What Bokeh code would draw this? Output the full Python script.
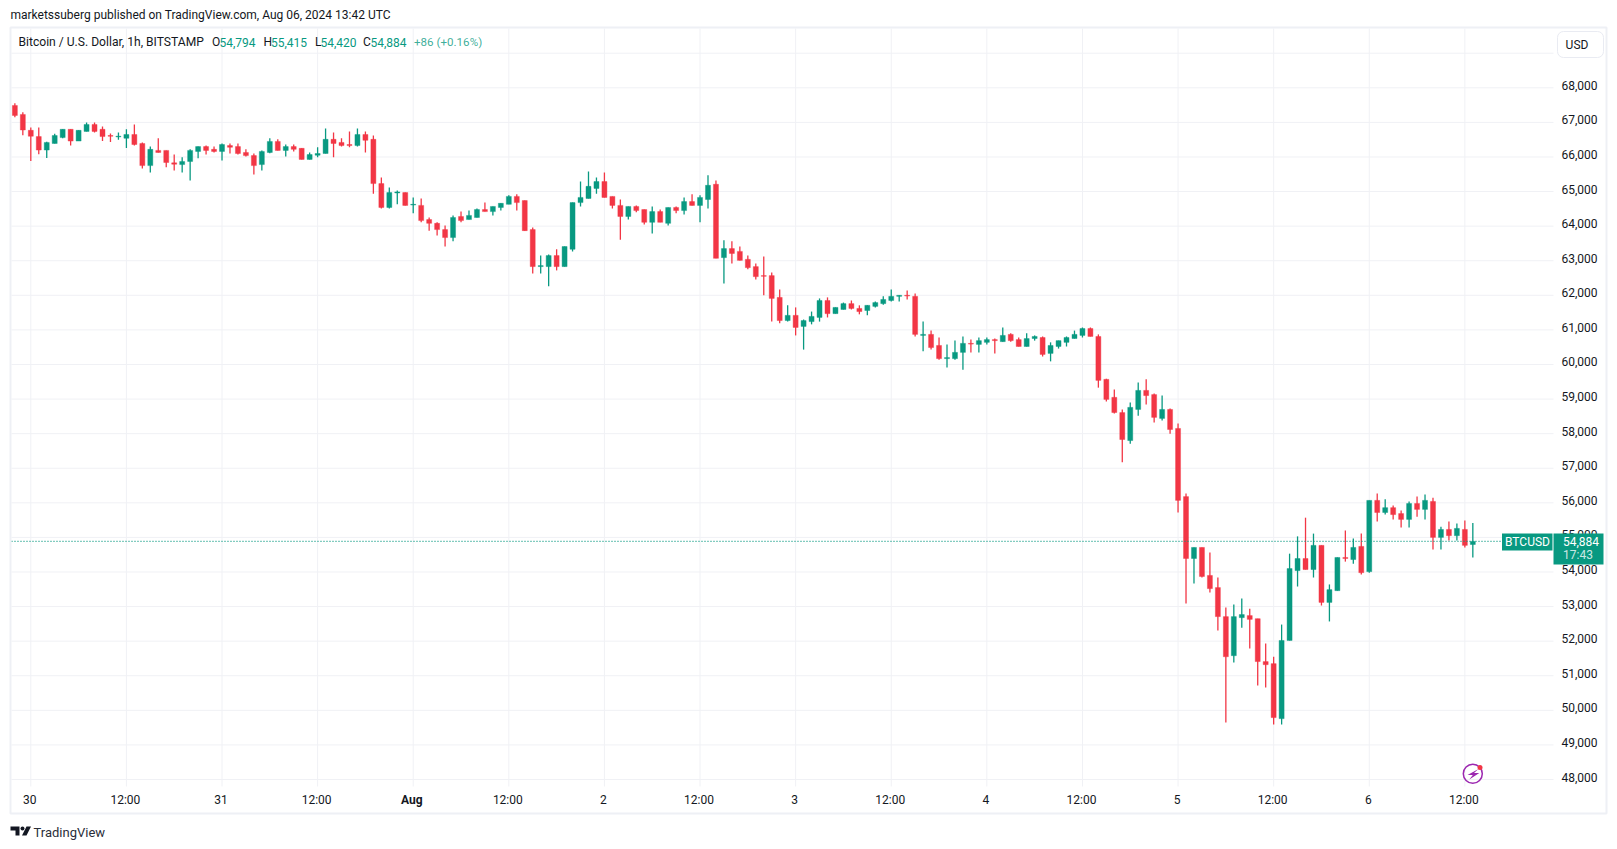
from bokeh.plotting import figure
from bokeh.models import (ColumnDataSource, FixedTicker, Label, BoxAnnotation, PolyAnnotation,
                          Span, Range1d, LinearAxis)
from bokeh.embed import file_html
from bokeh.resources import INLINE

opens = [67490,67230,66770,66590,66200,66390,66560,66800,66460,66740,
66940,66800,66620,66580,66540,66650,66390,65750,66190,66190,
65830,65780,65870,66160,66300,66220,66160,66330,66300,66130,
66040,65780,66130,66450,66190,66300,66250,65930,66050,66100,
66510,66420,66360,66330,66650,66510,65230,64540,64960,64970,
64610,64600,64190,64080,63900,63670,64280,64190,64250,64480,
64420,64540,64630,64860,64740,63900,62830,62830,63150,62830,
63330,64680,64800,65090,65290,64860,64600,64280,64570,64480,
64110,64420,64080,64540,64450,64710,64600,64770,65210,63090,
63350,63270,63040,62830,62570,62570,61940,61270,61420,61100,
61240,61360,61850,61470,61590,61760,61620,61560,61680,61760,
61850,61970,62000,61970,60840,60870,60550,60170,60170,60350,
60610,60580,60640,60720,60660,60870,60720,60520,60750,60780,
60320,60520,60640,60750,60840,61040,60810,59570,59050,58610,
57800,58700,59250,59130,58440,58700,58150,56180,54390,54710,
53900,53550,52710,51580,52680,52740,52650,51410,51350,49760,
52020,54040,54390,54070,54770,53120,53460,54420,54360,54740,
54010,56070,55720,55860,55690,55520,55980,55810,56040,55000,
55230,55050,55230,54794]

highs = [67550,67290,66850,66850,66440,66670,66800,66800,66770,67000,
67000,66880,66680,66710,66800,66940,66420,66300,66540,66190,
66070,65990,66220,66300,66330,66300,66390,66390,66390,66220,
66100,66190,66540,66510,66360,66360,66250,66130,66280,66820,
66710,66540,66740,66820,66740,66620,65410,65120,65030,64970,
64830,64800,64250,64110,64020,64310,64420,64450,64510,64680,
64570,64660,64890,64920,64740,63960,63150,63180,63330,63410,
64680,65290,65580,65410,65550,64860,64770,64570,64600,64480,
64570,64480,64540,64570,64830,64920,64890,65470,65320,63590,
63560,63410,63150,62920,63120,62660,62170,61710,61650,61300,
61530,61910,61940,61650,61790,61850,61710,61710,61820,61970,
62170,62000,62140,62050,61240,60980,60780,60580,60690,60810,
60720,60780,60780,60750,61070,60900,60780,60900,60840,60810,
60640,60690,60810,60980,61070,61070,60870,59590,59280,58700,
58900,59480,59570,59160,59100,58730,58290,56270,54710,54710,
54560,53840,52970,53060,53230,52940,52650,51930,51550,52480,
54530,55030,55570,55110,54770,53640,54420,55200,54970,55110,
56070,56270,56100,55920,55780,56040,56180,56240,56150,55310,
55460,55400,55490,55415]

lows = [67150,66630,65880,66080,65970,66390,66540,66330,66460,66740,
66710,66460,66430,66500,66260,66330,65670,65550,66130,65700,
65610,65550,65320,65960,66070,66130,65900,66100,66070,66010,
65490,65610,66110,66190,66010,66160,65930,65930,65990,66100,
65990,66300,66280,66300,66130,64940,64510,64510,64630,64600,
64370,64110,63870,63730,63410,63560,64110,64190,64250,64420,
64310,64450,64630,64450,63870,62630,62630,62260,62720,62830,
63270,64570,64800,64940,64830,64510,63610,64190,64400,64050,
63790,64110,64020,64370,64340,64600,64110,64510,63070,62340,
62920,63010,62750,62460,62000,61240,61190,61240,60840,60430,
61160,61240,61360,61470,61590,61590,61450,61420,61650,61730,
61820,61820,61880,60810,60380,60430,60140,59910,60140,59850,
60350,60350,60580,60320,60660,60660,60520,60520,60690,60230,
60090,60460,60520,60750,60780,60810,59330,58930,58580,57170,
57710,58520,58840,58320,58380,58000,55720,53090,53670,53840,
53410,52310,49650,51380,52390,51790,50720,50660,49590,49590,
52020,53580,54070,53840,53030,52570,53460,54300,54240,53930,
53980,55460,55660,55520,55290,55290,55600,55520,54650,54650,
54910,54910,54710,54420]

closes = [67200,66780,66600,66200,66420,66620,66800,66460,66770,66940,
66740,66590,66600,66600,66650,66360,65750,66220,66130,65840,
65790,65870,66190,66300,66190,66160,66360,66280,66100,66040,
65750,66160,66450,66190,66300,66220,65930,66070,66100,66510,
66390,66330,66330,66650,66480,65230,64540,64970,64990,64600,
64630,64160,64080,63900,63670,64250,64160,64310,64480,64420,
64570,64660,64860,64680,63870,62830,62860,63150,62830,63410,
64680,64830,65150,65290,64830,64600,64280,64570,64450,64110,
64420,64110,64540,64450,64710,64600,64830,65180,63070,63350,
63210,63010,62800,62540,62550,61910,61270,61420,61070,61270,
61390,61850,61470,61650,61760,61620,61530,61710,61790,61880,
61970,62000,61980,60870,60870,60490,60170,60200,60350,60610,
60590,60690,60720,60690,60840,60690,60520,60750,60810,60290,
60550,60690,60780,60870,61040,60810,59540,58990,58610,57830,
58760,59250,59100,58470,58700,58120,56070,54390,54710,53870,
53520,52710,51550,52710,52770,52630,51410,51320,49790,52020,
54100,54390,54070,54770,53120,53490,54420,54390,54710,53980,
56070,55720,55860,55660,55520,55980,55810,56070,55000,55230,
55050,55260,54770,54884]

# hours counted from Jul 30 00:00
hours = list(range(-2, 182))
price_ticks = list(range(48000, 69000, 1000))
grid_ticks = list(range(48000, 70000, 1000))
time_ticks = list(range(0, 192, 12))
time_labels = ["30","12:00","31","12:00","","12:00","2","12:00","3","12:00","4","12:00","5","12:00","6","12:00"]
last_price = 54884

UP, DOWN = "#089981", "#f23645"
INK = "#131722"
FRAME = "#eef0f5"
GRID = "#f0f1f5"
FONT = "Roboto"

# page geometry (page pixels)
W, H = 1617, 849
FL, FR, FT, FB = 11, 1553, 28, 786
X0, PX_H = 30.3, 7.967      # page x of hour 0, px per hour
Y68, PX_K = 87.3, 34.585    # page y of 68,000, px per 1000
LABEL_UP = 2.5              # price labels sit slightly above their grid line
LABEL_LEFT = 1.0            # time labels sit slightly left of their grid line


def hx(px):
    return (px - X0) / PX_H


def py2p(py):
    return 68000 + (Y68 - py) / PX_K * 1000


p = figure(width=W, height=H, output_backend="svg", toolbar_location=None,
           x_range=Range1d(hx(0), hx(W)), y_range=Range1d(py2p(H), py2p(0)),
           x_axis_location=None, y_axis_location=None,
           min_border=0, background_fill_color="white", border_fill_color="white")
p.outline_line_color = None
p.grid.visible = False
p.extra_y_ranges = {"price_labels": Range1d(py2p(H + LABEL_UP), py2p(LABEL_UP))}
p.extra_x_ranges = {"time_labels": Range1d(hx(LABEL_LEFT), hx(W + LABEL_LEFT))}

# grid
p.segment(x0=[hx(FL)] * len(grid_ticks), x1=[hx(FR)] * len(grid_ticks), y0=grid_ticks, y1=grid_ticks,
          line_color=GRID, line_width=1)
p.segment(x0=time_ticks, x1=time_ticks, y0=[py2p(FT)] * len(time_ticks), y1=[py2p(FB)] * len(time_ticks),
          line_color=GRID, line_width=1)

# axes
ax_y = LinearAxis(ticker=FixedTicker(ticks=price_ticks), fixed_location=hx(FR), y_range_name="price_labels")
ax_y.major_label_overrides = {t: f"{t:,}" for t in price_ticks}
ax_x = LinearAxis(ticker=FixedTicker(ticks=time_ticks), fixed_location=py2p(FB), x_range_name="time_labels")
ax_x.major_label_overrides = dict(zip(time_ticks, time_labels))
for a in (ax_x, ax_y):
    a.axis_line_color = None
    a.major_tick_line_color = None
    a.minor_tick_line_color = None
    a.major_tick_out = 0
    a.major_tick_in = 0
    a.minor_tick_out = 0
    a.minor_tick_in = 0
    a.major_label_text_color = INK
    a.major_label_text_font = FONT
    a.major_label_text_font_size = "12px"
ax_y.major_label_standoff = 8
ax_x.major_label_standoff = 6
p.add_layout(ax_y, "right")
p.add_layout(ax_x, "below")

# candles
src = ColumnDataSource(dict(
    x=hours, o=opens, h=highs, l=lows, c=closes,
    top=[max(a, b) for a, b in zip(opens, closes)],
    bot=[min(a, b) for a, b in zip(opens, closes)],
    col=[UP if c >= o else DOWN for o, c in zip(opens, closes)],
))
p.segment("x", "h", "x", "l", source=src, line_color="col", line_width=1.3)
p.vbar("x", width=5 / PX_H, top="top", bottom="bot", source=src, fill_color="col", line_color="col", line_width=0.4)

# last price line
p.segment(x0=[hx(FL)], x1=[hx(1502)], y0=[last_price], y1=[last_price], line_color=UP, line_width=1.3, line_dash="1 2")


def sx(px):
    return px


def sy(py):
    return H - py


def box(x0, y0, x1, y1, fill=None, line=None, lw=1, radius=0):
    b = BoxAnnotation(left=sx(x0), right=sx(x1), top=sy(y0), bottom=sy(y1),
                      left_units="screen", right_units="screen", top_units="screen", bottom_units="screen",
                      fill_color=fill, fill_alpha=1 if fill else 0,
                      line_color=line, line_alpha=1 if line else 0, line_width=lw, border_radius=radius)
    p.add_layout(b)


def poly(pts, fill):
    p.add_layout(PolyAnnotation(xs=[sx(a) for a, _ in pts], ys=[sy(b) for _, b in pts],
                                xs_units="screen", ys_units="screen",
                                fill_color=fill, fill_alpha=1, line_color=None))


def txt(s, px, py, color=INK, size=12, align="left", style="normal", alpha=1.0, font=FONT):
    p.add_layout(Label(x=sx(px), y=sy(py), x_units="screen", y_units="screen", text=s,
                       text_color=color, text_font_size=f"{size}px", text_font=font,
                       text_align=align, text_baseline="middle", text_font_style=style, text_alpha=alpha))


# outer frame
box(10, 27, 1606, 813, line=FRAME, lw=2)

# header
txt("marketssuberg published on TradingView.com, Aug 06, 2024 13:42 UTC", 10, 14.5, size=12)
txt("Bitcoin / U.S. Dollar, 1h, BITSTAMP", 18, 41.5, size=12.1)
for letter, lx, val, vx in [("O", 211.5, "54,794", 219), ("H", 263, "55,415", 270.5),
                            ("L", 314.5, "54,420", 320), ("C", 362.5, "54,884", 370)]:
    txt(letter, lx, 41.5, size=12)
    txt(val, vx, 41.5, color=UP, size=12)
txt("+86 (+0.16%)", 413.5, 41.5, color=UP, size=11.6, alpha=0.8)

# bold month tick
txt("Aug", 411.3, 799, size=12, align="center", style="bold")

# currency button
box(1557, 31, 1603, 57, fill="white", line="#e9ebf2", lw=1, radius=6)
txt("USD", 1576.5, 44.5, size=12, align="center")

# price tags
box(1501.5, 533, 1552, 550, fill=UP)
txt("BTCUSD", 1527, 541.5, color="white", size=12, align="center")
box(1553, 533, 1603, 564, fill=UP)
txt("54,884", 1562.5, 541, color="white", size=12)
txt("17:43", 1562.5, 554.5, color="white", size=12, alpha=0.8)

# lightning badge
p.scatter([hx(1472.3)], [py2p(773.3)], marker="circle", size=19,
          fill_color=None, line_color="#9c27b0", line_width=1.5)
poly([(1478, 768.5), (1467, 774.5), (1472.3, 774.5), (1468.8, 779), (1478.8, 772.5), (1473.5, 772.5)], "#9c27b0")
box(1477, 764.4, 1482, 769.4, fill=DOWN, radius=3)

# footer logo
poly([(10, 826), (19, 826), (19, 835), (15, 835), (15, 830), (10, 830)], INK)
box(20, 826, 24, 830, fill=INK, radius=2)
poly([(26, 826), (30.5, 826), (26, 835), (21.5, 835)], INK)
txt("TradingView", 33, 831.5, size=13, color="#2a2e39")

open("out.html", "w").write(file_html(p, INLINE))
